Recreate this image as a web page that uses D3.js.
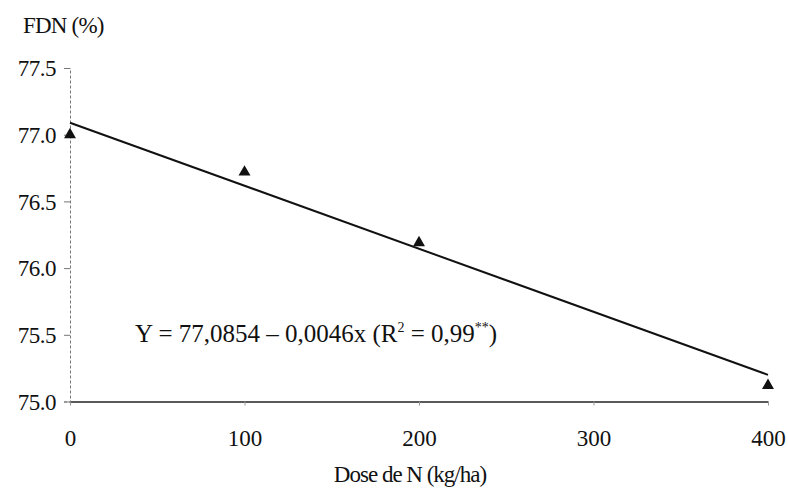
<!DOCTYPE html>
<html>
<head>
<meta charset="utf-8">
<script src="https://cdn.jsdelivr.net/npm/d3@7"></script>
</head>
<body style="margin:0; background:#fff">
<svg id="chart" width="788" height="498" font-family="Liberation Serif"></svg>
<script>
// data
const doses = [0, 100, 200, 400];              // kg/ha
const fdnValues = [77.0, 76.72, 76.19, 75.12]; // FDN (%)
const fitDoses = [0, 400];                     // ends of the fitted line
const fitValues = [77.09, 75.2];
const xTicks = [0, 100, 200, 300, 400];
const yTicks = [75.0, 75.5, 76.0, 76.5, 77.0, 77.5];

const serif = "Liberation Serif";

const svg = d3.select("#chart");

const x = d3.scaleLinear().domain([0, 400]).range([70, 768]);
const y = d3.scaleLinear().domain([75, 77.5]).range([401.5, 68]);

// y axis (thin dotted line, small ticks on the left)
const yAxis = svg.append("g")
  .attr("transform", `translate(${x(0)},0)`)
  .call(d3.axisLeft(y).tickValues(yTicks).tickFormat(d3.format(".1f")).tickSize(6).tickPadding(8));
yAxis.attr("font-family", serif).attr("font-size", 23);
yAxis.select(".domain").attr("stroke", "#777").attr("stroke-dasharray", "3,2");
yAxis.selectAll(".tick line").attr("stroke", "#777");
yAxis.selectAll(".tick text")
  .attr("fill", "#111")
  .attr("letter-spacing", -0.5)
  .attr("dy", "0.34em");

// x axis (solid line, small light ticks)
const xAxis = svg.append("g")
  .attr("transform", `translate(0,${y(75)})`)
  .call(d3.axisBottom(x).tickValues(xTicks).tickSize(4).tickPadding(24).tickSizeOuter(0));
xAxis.attr("font-family", serif).attr("font-size", 23);
xAxis.select(".domain").attr("stroke", "#222").attr("stroke-width", 1.6);
xAxis.selectAll(".tick line").attr("stroke", "#999");
xAxis.selectAll(".tick text").attr("fill", "#111");

// fitted line
svg.append("path")
  .datum(fitDoses.map((d, i) => [d, fitValues[i]]))
  .attr("d", d3.line().x(d => x(d[0])).y(d => y(d[1])))
  .attr("fill", "none")
  .attr("stroke", "#111")
  .attr("stroke-width", 2);

// observed points
svg.append("g")
  .selectAll("path")
  .data(doses.map((d, i) => [d, fdnValues[i]]))
  .join("path")
  .attr("d", d3.symbol(d3.symbolTriangle, 62))
  .attr("transform", d => `translate(${x(d[0])},${y(d[1])})`)
  .attr("fill", "#111");

// titles
svg.append("text")
  .attr("x", 23).attr("y", 33)
  .attr("font-size", 23)
  .attr("letter-spacing", -0.8)
  .attr("fill", "#111")
  .text("FDN (%)");

svg.append("text")
  .attr("x", 410).attr("y", 482)
  .attr("text-anchor", "middle")
  .attr("font-size", 23)
  .attr("letter-spacing", -1)
  .attr("fill", "#111")
  .text("Dose de N (kg/ha)");

// equation
const eq = svg.append("text")
  .attr("x", 135).attr("y", 342)
  .attr("font-size", 25)
  .attr("fill", "#111");
eq.append("tspan").text("Y = 77,0854 \u2013 0,0046x (R");
eq.append("tspan").attr("font-size", 14).attr("dy", -10).text("2");
eq.append("tspan").attr("dy", 10).text(" = 0,99");
eq.append("tspan").attr("font-size", 14).attr("dy", -10).text("**");
eq.append("tspan").attr("dy", 10).text(")");

// every text in the serif face
svg.selectAll("text").attr("font-family", serif);
</script>
</body>
</html>
